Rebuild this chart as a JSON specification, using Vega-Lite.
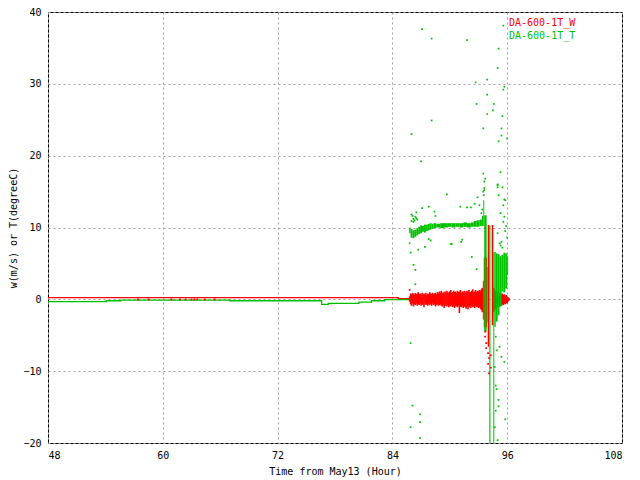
{
  "$schema": "https://vega.github.io/schema/vega-lite/v6.json",
  "width": 574,
  "height": 431,
  "autosize": {"type": "none"},
  "padding": {"left": 48, "top": 12, "right": 18, "bottom": 37},
  "background": "white",
  "datasets": {
    "base": [
      {"h": 48, "v": 0.24, "s": "DA-600-1T_W"},
      {"h": 84.6, "v": 0.1, "s": "DA-600-1T_W"},
      {"h": 85.8, "v": 0.1, "s": "DA-600-1T_W"},
      {"h": 48, "v": -0.32, "s": "DA-600-1T_T"},
      {"h": 54.1, "v": -0.2, "s": "DA-600-1T_T"},
      {"h": 55.6, "v": -0.1, "s": "DA-600-1T_T"},
      {"h": 67.0, "v": -0.2, "s": "DA-600-1T_T"},
      {"h": 76.6, "v": -0.7, "s": "DA-600-1T_T"},
      {"h": 77.3, "v": -0.55, "s": "DA-600-1T_T"},
      {"h": 80.5, "v": -0.4, "s": "DA-600-1T_T"},
      {"h": 81.8, "v": -0.2, "s": "DA-600-1T_T"},
      {"h": 83.2, "v": -0.05, "s": "DA-600-1T_T"},
      {"h": 85.8, "v": -0.05, "s": "DA-600-1T_T"}
    ],
    "noise": [
      {"h": 85.8, "lo": -0.3, "hi": 0.4}, {"h": 85.9, "lo": -0.7, "hi": 0.8},
      {"h": 86.0, "lo": -0.9, "hi": 0.7}, {"h": 86.1, "lo": -0.6, "hi": 0.9},
      {"h": 86.2, "lo": -1.0, "hi": 0.8}, {"h": 86.3, "lo": -0.7, "hi": 0.6},
      {"h": 86.4, "lo": -0.8, "hi": 0.9}, {"h": 86.5, "lo": -0.6, "hi": 0.7},
      {"h": 86.6, "lo": -0.9, "hi": 0.8}, {"h": 86.7, "lo": -0.7, "hi": 1.0},
      {"h": 86.8, "lo": -0.8, "hi": 0.7}, {"h": 86.9, "lo": -0.6, "hi": 0.8},
      {"h": 87.0, "lo": -0.9, "hi": 0.6}, {"h": 87.1, "lo": -0.7, "hi": 0.9},
      {"h": 87.2, "lo": -0.8, "hi": 0.7}, {"h": 87.3, "lo": -1.1, "hi": 0.8},
      {"h": 87.4, "lo": -0.6, "hi": 0.7}, {"h": 87.5, "lo": -0.8, "hi": 0.9},
      {"h": 87.6, "lo": -0.7, "hi": 0.6}, {"h": 87.7, "lo": -0.9, "hi": 0.8},
      {"h": 87.8, "lo": -0.6, "hi": 0.7}, {"h": 87.9, "lo": -0.8, "hi": 1.0},
      {"h": 88.0, "lo": -0.7, "hi": 0.8}, {"h": 88.1, "lo": -0.9, "hi": 0.7},
      {"h": 88.2, "lo": -0.6, "hi": 0.9}, {"h": 88.3, "lo": -0.8, "hi": 0.7},
      {"h": 88.4, "lo": -0.7, "hi": 0.8}, {"h": 88.5, "lo": -1.0, "hi": 0.9},
      {"h": 88.6, "lo": -0.8, "hi": 0.7}, {"h": 88.7, "lo": -0.7, "hi": 1.0},
      {"h": 88.8, "lo": -0.9, "hi": 0.8}, {"h": 88.9, "lo": -0.8, "hi": 1.1},
      {"h": 89.0, "lo": -0.7, "hi": 0.9}, {"h": 89.1, "lo": -0.9, "hi": 1.2},
      {"h": 89.2, "lo": -1.0, "hi": 0.8}, {"h": 89.3, "lo": -0.8, "hi": 1.0},
      {"h": 89.4, "lo": -1.2, "hi": 0.9}, {"h": 89.5, "lo": -0.9, "hi": 1.1},
      {"h": 89.6, "lo": -0.9, "hi": 0.9}, {"h": 89.7, "lo": -1.0, "hi": 1.2},
      {"h": 89.8, "lo": -0.8, "hi": 1.0}, {"h": 89.9, "lo": -1.1, "hi": 0.9},
      {"h": 90.0, "lo": -0.9, "hi": 1.1}, {"h": 90.1, "lo": -1.0, "hi": 1.3},
      {"h": 90.2, "lo": -0.8, "hi": 0.9}, {"h": 90.3, "lo": -1.1, "hi": 1.0},
      {"h": 90.4, "lo": -0.9, "hi": 1.2}, {"h": 90.5, "lo": -1.2, "hi": 1.0},
      {"h": 90.6, "lo": -0.9, "hi": 1.1}, {"h": 90.7, "lo": -1.0, "hi": 0.9},
      {"h": 90.8, "lo": -1.1, "hi": 1.2}, {"h": 90.9, "lo": -0.9, "hi": 1.0},
      {"h": 91.0, "lo": -1.9, "hi": 1.1}, {"h": 91.1, "lo": -1.0, "hi": 1.3},
      {"h": 91.2, "lo": -1.1, "hi": 0.9}, {"h": 91.3, "lo": -0.9, "hi": 1.1},
      {"h": 91.4, "lo": -1.2, "hi": 1.0}, {"h": 91.5, "lo": -1.0, "hi": 1.2},
      {"h": 91.6, "lo": -1.1, "hi": 0.9}, {"h": 91.7, "lo": -1.3, "hi": 1.1},
      {"h": 91.8, "lo": -1.0, "hi": 1.2}, {"h": 91.9, "lo": -1.4, "hi": 1.0},
      {"h": 92.0, "lo": -1.1, "hi": 1.3}, {"h": 92.1, "lo": -1.0, "hi": 1.1},
      {"h": 92.2, "lo": -1.2, "hi": 1.0}, {"h": 92.3, "lo": -0.9, "hi": 1.2},
      {"h": 92.4, "lo": -1.1, "hi": 1.4}, {"h": 92.5, "lo": -1.0, "hi": 1.0},
      {"h": 92.6, "lo": -1.2, "hi": 1.1}, {"h": 92.7, "lo": -0.9, "hi": 1.3},
      {"h": 92.8, "lo": -1.1, "hi": 1.0}, {"h": 92.9, "lo": -1.0, "hi": 1.2},
      {"h": 93.0, "lo": -1.2, "hi": 1.1}, {"h": 93.1, "lo": -1.1, "hi": 1.3},
      {"h": 93.2, "lo": -1.3, "hi": 1.2}, {"h": 93.3, "lo": -1.5, "hi": 1.4},
      {"h": 93.4, "lo": -1.8, "hi": 1.6},
      {"h": 94.6, "lo": -1.8, "hi": 1.6}, {"h": 94.7, "lo": -1.5, "hi": 1.3},
      {"h": 94.8, "lo": -1.2, "hi": 1.1}, {"h": 94.9, "lo": -1.0, "hi": 1.2},
      {"h": 95.0, "lo": -1.1, "hi": 0.9}, {"h": 95.1, "lo": -0.9, "hi": 1.0},
      {"h": 95.2, "lo": -1.0, "hi": 0.8}, {"h": 95.3, "lo": -0.8, "hi": 0.9},
      {"h": 95.4, "lo": -0.9, "hi": 0.7}, {"h": 95.5, "lo": -0.7, "hi": 0.8},
      {"h": 95.6, "lo": -0.8, "hi": 0.6}, {"h": 95.7, "lo": -0.6, "hi": 0.7},
      {"h": 95.8, "lo": -0.7, "hi": 0.5}, {"h": 95.9, "lo": -0.5, "hi": 0.6},
      {"h": 96.0, "lo": -0.6, "hi": 0.4}, {"h": 96.1, "lo": -0.3, "hi": 0.3},
      {"h": 96.2, "lo": -0.2, "hi": 0.2}
    ],
    "band": [
      {"t0": 93.45, "t1": 93.55, "lo": -2.8, "hi": 2.6, "s": "DA-600-1T_W"},
      {"t0": 93.55, "t1": 93.9, "lo": -3.9, "hi": 5.8, "s": "DA-600-1T_W"},
      {"t0": 93.9, "t1": 93.95, "lo": -3.2, "hi": 4.5, "s": "DA-600-1T_W"},
      {"t0": 93.96, "t1": 94.12, "lo": -6.6, "hi": 10.35, "s": "DA-600-1T_W"},
      {"t0": 94.38, "t1": 94.55, "lo": -3.6, "hi": 10.35, "s": "DA-600-1T_W"},
      {"t0": 85.75, "t1": 85.9, "lo": 9.2, "hi": 10.0, "s": "DA-600-1T_T"},
      {"t0": 85.9, "t1": 86.1, "lo": 8.6, "hi": 9.8, "s": "DA-600-1T_T"},
      {"t0": 86.1, "t1": 86.3, "lo": 8.5, "hi": 9.6, "s": "DA-600-1T_T"},
      {"t0": 86.3, "t1": 86.5, "lo": 8.7, "hi": 9.7, "s": "DA-600-1T_T"},
      {"t0": 86.5, "t1": 86.7, "lo": 8.9, "hi": 9.9, "s": "DA-600-1T_T"},
      {"t0": 86.7, "t1": 86.9, "lo": 9.1, "hi": 10.1, "s": "DA-600-1T_T"},
      {"t0": 86.9, "t1": 87.1, "lo": 9.2, "hi": 10.3, "s": "DA-600-1T_T"},
      {"t0": 87.1, "t1": 87.3, "lo": 9.4, "hi": 10.2, "s": "DA-600-1T_T"},
      {"t0": 87.3, "t1": 87.5, "lo": 9.3, "hi": 10.4, "s": "DA-600-1T_T"},
      {"t0": 87.5, "t1": 87.7, "lo": 9.5, "hi": 10.4, "s": "DA-600-1T_T"},
      {"t0": 87.7, "t1": 87.9, "lo": 9.6, "hi": 10.5, "s": "DA-600-1T_T"},
      {"t0": 87.9, "t1": 88.1, "lo": 9.7, "hi": 10.6, "s": "DA-600-1T_T"},
      {"t0": 88.1, "t1": 88.3, "lo": 9.8, "hi": 10.5, "s": "DA-600-1T_T"},
      {"t0": 88.3, "t1": 88.6, "lo": 9.9, "hi": 10.6, "s": "DA-600-1T_T"},
      {"t0": 88.6, "t1": 89.0, "lo": 10.0, "hi": 10.5, "s": "DA-600-1T_T"},
      {"t0": 89.0, "t1": 89.4, "lo": 9.9, "hi": 10.6, "s": "DA-600-1T_T"},
      {"t0": 89.4, "t1": 89.8, "lo": 10.0, "hi": 10.6, "s": "DA-600-1T_T"},
      {"t0": 89.8, "t1": 90.2, "lo": 10.1, "hi": 10.6, "s": "DA-600-1T_T"},
      {"t0": 90.2, "t1": 90.6, "lo": 10.0, "hi": 10.6, "s": "DA-600-1T_T"},
      {"t0": 90.6, "t1": 91.0, "lo": 10.1, "hi": 10.6, "s": "DA-600-1T_T"},
      {"t0": 91.0, "t1": 91.4, "lo": 10.0, "hi": 10.6, "s": "DA-600-1T_T"},
      {"t0": 91.4, "t1": 91.8, "lo": 10.1, "hi": 10.7, "s": "DA-600-1T_T"},
      {"t0": 91.8, "t1": 92.2, "lo": 10.0, "hi": 10.6, "s": "DA-600-1T_T"},
      {"t0": 92.2, "t1": 92.5, "lo": 10.1, "hi": 10.7, "s": "DA-600-1T_T"},
      {"t0": 92.5, "t1": 92.8, "lo": 10.1, "hi": 10.9, "s": "DA-600-1T_T"},
      {"t0": 92.8, "t1": 93.1, "lo": 10.1, "hi": 11.0, "s": "DA-600-1T_T"},
      {"t0": 93.1, "t1": 93.35, "lo": 10.2, "hi": 11.1, "s": "DA-600-1T_T"},
      {"t0": 93.35, "t1": 93.5, "lo": 10.2, "hi": 11.6, "s": "DA-600-1T_T"},
      {"t0": 93.5, "t1": 93.6, "lo": 10.2, "hi": 13.8, "s": "DA-600-1T_T"},
      {"t0": 93.6, "t1": 93.85, "lo": -4.5, "hi": 11.7, "s": "DA-600-1T_T"},
      {"t0": 94.13, "t1": 94.25, "lo": -20, "hi": 10.3, "s": "DA-600-1T_T"},
      {"t0": 94.55, "t1": 94.65, "lo": -20, "hi": 6.6, "s": "DA-600-1T_T"},
      {"t0": 94.65, "t1": 94.8, "lo": -3.8, "hi": 6.6, "s": "DA-600-1T_T"},
      {"t0": 94.8, "t1": 95.0, "lo": -3.1, "hi": 6.4, "s": "DA-600-1T_T"},
      {"t0": 95.0, "t1": 95.2, "lo": -2.2, "hi": 6.3, "s": "DA-600-1T_T"},
      {"t0": 95.2, "t1": 95.4, "lo": -1.0, "hi": 6.0, "s": "DA-600-1T_T"},
      {"t0": 95.4, "t1": 95.6, "lo": 1.1, "hi": 6.2, "s": "DA-600-1T_T"},
      {"t0": 95.6, "t1": 95.8, "lo": 1.0, "hi": 6.5, "s": "DA-600-1T_T"},
      {"t0": 95.8, "t1": 96.0, "lo": 1.5, "hi": 6.4, "s": "DA-600-1T_T"},
      {"t0": 96.0, "t1": 96.1, "lo": 3.4, "hi": 6.0, "s": "DA-600-1T_T"}
    ],
    "dots": [
      {"h": 57.4, "v": 0.0, "s": "DA-600-1T_W"}, {"h": 58.5, "v": 0.0, "s": "DA-600-1T_W"},
      {"h": 60.9, "v": 0.0, "s": "DA-600-1T_W"}, {"h": 61.8, "v": 0.0, "s": "DA-600-1T_W"},
      {"h": 62.4, "v": 0.0, "s": "DA-600-1T_W"}, {"h": 63.0, "v": 0.0, "s": "DA-600-1T_W"},
      {"h": 63.3, "v": 0.0, "s": "DA-600-1T_W"}, {"h": 63.6, "v": 0.0, "s": "DA-600-1T_W"},
      {"h": 64.4, "v": 0.0, "s": "DA-600-1T_W"}, {"h": 65.4, "v": 0.0, "s": "DA-600-1T_W"},
      {"h": 85.8, "v": 1.3, "s": "DA-600-1T_W"},
      {"h": 93.7, "v": -4.5, "s": "DA-600-1T_W"}, {"h": 93.7, "v": -5.2, "s": "DA-600-1T_W"},
      {"h": 93.8, "v": -6.1, "s": "DA-600-1T_W"}, {"h": 93.8, "v": -6.8, "s": "DA-600-1T_W"},
      {"h": 94.0, "v": -7.5, "s": "DA-600-1T_W"}, {"h": 94.1, "v": -8.2, "s": "DA-600-1T_W"},
      {"h": 94.0, "v": -9.0, "s": "DA-600-1T_W"}, {"h": 94.1, "v": -10.3, "s": "DA-600-1T_W"},
      {"h": 94.3, "v": -7.8, "s": "DA-600-1T_W"}, {"h": 94.3, "v": -9.5, "s": "DA-600-1T_W"},
      {"h": 87.1, "v": 37.6, "s": "DA-600-1T_T"}, {"h": 88.1, "v": 36.3, "s": "DA-600-1T_T"},
      {"h": 91.8, "v": 36.1, "s": "DA-600-1T_T"}, {"h": 95.6, "v": 38.1, "s": "DA-600-1T_T"},
      {"h": 95.1, "v": 34.9, "s": "DA-600-1T_T"}, {"h": 95.0, "v": 32.2, "s": "DA-600-1T_T"},
      {"h": 93.9, "v": 30.6, "s": "DA-600-1T_T"}, {"h": 92.7, "v": 30.2, "s": "DA-600-1T_T"},
      {"h": 95.7, "v": 29.6, "s": "DA-600-1T_T"}, {"h": 95.6, "v": 29.2, "s": "DA-600-1T_T"},
      {"h": 93.9, "v": 28.5, "s": "DA-600-1T_T"}, {"h": 92.8, "v": 27.2, "s": "DA-600-1T_T"},
      {"h": 94.6, "v": 27.2, "s": "DA-600-1T_T"}, {"h": 94.5, "v": 26.3, "s": "DA-600-1T_T"},
      {"h": 93.9, "v": 25.8, "s": "DA-600-1T_T"}, {"h": 95.5, "v": 25.5, "s": "DA-600-1T_T"},
      {"h": 88.1, "v": 24.9, "s": "DA-600-1T_T"}, {"h": 93.5, "v": 23.8, "s": "DA-600-1T_T"},
      {"h": 95.4, "v": 23.8, "s": "DA-600-1T_T"}, {"h": 86.0, "v": 23.0, "s": "DA-600-1T_T"},
      {"h": 95.4, "v": 22.8, "s": "DA-600-1T_T"}, {"h": 96.0, "v": 22.4, "s": "DA-600-1T_T"},
      {"h": 95.1, "v": 22.0, "s": "DA-600-1T_T"}, {"h": 87.0, "v": 19.2, "s": "DA-600-1T_T"},
      {"h": 93.5, "v": 17.5, "s": "DA-600-1T_T"}, {"h": 95.3, "v": 17.7, "s": "DA-600-1T_T"},
      {"h": 93.7, "v": 16.8, "s": "DA-600-1T_T"}, {"h": 93.6, "v": 16.4, "s": "DA-600-1T_T"},
      {"h": 95.0, "v": 16.0, "s": "DA-600-1T_T"}, {"h": 93.6, "v": 15.5, "s": "DA-600-1T_T"},
      {"h": 95.5, "v": 15.6, "s": "DA-600-1T_T"}, {"h": 95.0, "v": 15.6, "s": "DA-600-1T_T"},
      {"h": 93.6, "v": 15.2, "s": "DA-600-1T_T"}, {"h": 93.55, "v": 14.5, "s": "DA-600-1T_T"},
      {"h": 93.5, "v": 15.0, "s": "DA-600-1T_T"}, {"h": 89.7, "v": 14.6, "s": "DA-600-1T_T"},
      {"h": 87.8, "v": 12.9, "s": "DA-600-1T_T"}, {"h": 88.4, "v": 12.2, "s": "DA-600-1T_T"},
      {"h": 88.5, "v": 11.6, "s": "DA-600-1T_T"}, {"h": 87.1, "v": 12.7, "s": "DA-600-1T_T"},
      {"h": 91.1, "v": 12.9, "s": "DA-600-1T_T"}, {"h": 91.8, "v": 12.8, "s": "DA-600-1T_T"},
      {"h": 92.2, "v": 12.8, "s": "DA-600-1T_T"}, {"h": 92.6, "v": 13.3, "s": "DA-600-1T_T"},
      {"h": 92.9, "v": 14.2, "s": "DA-600-1T_T"}, {"h": 93.1, "v": 13.1, "s": "DA-600-1T_T"},
      {"h": 93.3, "v": 12.0, "s": "DA-600-1T_T"}, {"h": 93.4, "v": 12.5, "s": "DA-600-1T_T"},
      {"h": 86.0, "v": 11.8, "s": "DA-600-1T_T"}, {"h": 86.1, "v": 11.6, "s": "DA-600-1T_T"},
      {"h": 86.2, "v": 11.2, "s": "DA-600-1T_T"}, {"h": 86.3, "v": 11.0, "s": "DA-600-1T_T"},
      {"h": 86.4, "v": 11.5, "s": "DA-600-1T_T"}, {"h": 86.5, "v": 11.3, "s": "DA-600-1T_T"},
      {"h": 86.2, "v": 10.8, "s": "DA-600-1T_T"}, {"h": 86.6, "v": 11.1, "s": "DA-600-1T_T"},
      {"h": 86.0, "v": 10.9, "s": "DA-600-1T_T"}, {"h": 86.5, "v": 12.1, "s": "DA-600-1T_T"},
      {"h": 85.8, "v": 7.8, "s": "DA-600-1T_T"}, {"h": 87.8, "v": 8.4, "s": "DA-600-1T_T"},
      {"h": 88.0, "v": 8.2, "s": "DA-600-1T_T"}, {"h": 87.4, "v": 7.3, "s": "DA-600-1T_T"},
      {"h": 90.2, "v": 7.7, "s": "DA-600-1T_T"}, {"h": 91.2, "v": 8.0, "s": "DA-600-1T_T"},
      {"h": 91.3, "v": 8.3, "s": "DA-600-1T_T"}, {"h": 90.1, "v": 7.7, "s": "DA-600-1T_T"},
      {"h": 92.3, "v": 5.9, "s": "DA-600-1T_T"}, {"h": 92.8, "v": 4.2, "s": "DA-600-1T_T"},
      {"h": 86.2, "v": 4.8, "s": "DA-600-1T_T"}, {"h": 86.4, "v": 4.1, "s": "DA-600-1T_T"},
      {"h": 86.4, "v": 2.1, "s": "DA-600-1T_T"}, {"h": 85.9, "v": 6.5, "s": "DA-600-1T_T"},
      {"h": 86.7, "v": 6.9, "s": "DA-600-1T_T"}, {"h": 85.9, "v": -6.1, "s": "DA-600-1T_T"},
      {"h": 86.1, "v": -14.8, "s": "DA-600-1T_T"}, {"h": 86.9, "v": -16.0, "s": "DA-600-1T_T"},
      {"h": 86.9, "v": -17.1, "s": "DA-600-1T_T"}, {"h": 85.9, "v": -17.8, "s": "DA-600-1T_T"},
      {"h": 86.9, "v": -19.3, "s": "DA-600-1T_T"},
      {"h": 95.1, "v": 14.5, "s": "DA-600-1T_T"}, {"h": 95.7, "v": 13.9, "s": "DA-600-1T_T"},
      {"h": 95.6, "v": 13.1, "s": "DA-600-1T_T"}, {"h": 95.8, "v": 13.8, "s": "DA-600-1T_T"},
      {"h": 95.6, "v": 10.8, "s": "DA-600-1T_T"}, {"h": 95.4, "v": 8.0, "s": "DA-600-1T_T"},
      {"h": 95.0, "v": 15.9, "s": "DA-600-1T_T"}, {"h": 95.2, "v": 7.8, "s": "DA-600-1T_T"},
      {"h": 95.3, "v": 7.5, "s": "DA-600-1T_T"}, {"h": 95.5, "v": 7.2, "s": "DA-600-1T_T"},
      {"h": 95.0, "v": 9.2, "s": "DA-600-1T_T"}, {"h": 95.8, "v": 9.5, "s": "DA-600-1T_T"},
      {"h": 96.0, "v": 8.6, "s": "DA-600-1T_T"}, {"h": 95.9, "v": 10.2, "s": "DA-600-1T_T"},
      {"h": 95.3, "v": 12.0, "s": "DA-600-1T_T"}, {"h": 95.7, "v": 11.5, "s": "DA-600-1T_T"},
      {"h": 94.9, "v": -7.1, "s": "DA-600-1T_T"}, {"h": 95.4, "v": -8.0, "s": "DA-600-1T_T"},
      {"h": 95.7, "v": -8.7, "s": "DA-600-1T_T"}, {"h": 95.1, "v": -14.0, "s": "DA-600-1T_T"},
      {"h": 95.1, "v": -14.9, "s": "DA-600-1T_T"}, {"h": 95.8, "v": -16.7, "s": "DA-600-1T_T"},
      {"h": 95.0, "v": -19.6, "s": "DA-600-1T_T"}, {"h": 94.8, "v": -12.0, "s": "DA-600-1T_T"},
      {"h": 94.9, "v": -12.5, "s": "DA-600-1T_T"}, {"h": 95.2, "v": -6.6, "s": "DA-600-1T_T"},
      {"h": 94.8, "v": -5.2, "s": "DA-600-1T_T"}, {"h": 94.7, "v": -9.4, "s": "DA-600-1T_T"},
      {"h": 94.8, "v": -15.5, "s": "DA-600-1T_T"}, {"h": 94.7, "v": -17.8, "s": "DA-600-1T_T"}
    ]
  },
  "layer": [
    {
      "data": {"name": "base"},
      "mark": {"type": "line", "interpolate": "step-after", "strokeWidth": 1.3},
      "encoding": {
        "x": {
          "field": "h",
          "type": "quantitative",
          "scale": {"domain": [48, 108], "nice": false, "zero": false},
          "axis": {
            "title": "Time from May13 (Hour)",
            "values": [48, 60, 72, 84, 96, 108],
            "labelPadding": 7,
            "titlePadding": 6
          }
        },
        "y": {
          "field": "v",
          "type": "quantitative",
          "scale": {"domain": [-20, 40], "nice": false, "zero": false},
          "axis": {
            "title": "w(m/s) or T(degreeC)",
            "values": [-20, -10, 0, 10, 20, 30, 40],
            "labelPadding": 7,
            "titlePadding": 4
          }
        },
        "color": {
          "field": "s",
          "type": "nominal",
          "scale": {"domain": ["DA-600-1T_W", "DA-600-1T_T"], "range": ["#ff0000", "#00c000"]},
          "legend": {
            "orient": "none",
            "legendX": 449,
            "legendY": 6,
            "title": null,
            "symbolOpacity": 0,
            "symbolSize": 30,
            "labelOffset": 2,
            "rowPadding": 3,
            "labelFont": "DejaVu Sans Mono",
            "labelFontSize": 10,
            "encode": {
              "labels": {
                "update": {"fill": {"signal": "datum.value === 'DA-600-1T_W' ? '#ff0000' : '#00c000'"}}
              }
            }
          }
        }
      }
    },
    {
      "data": {"name": "noise"},
      "mark": {"type": "rule", "strokeWidth": 1.6, "color": "#ff0000"},
      "encoding": {
        "x": {"field": "h", "type": "quantitative"},
        "y": {"field": "lo", "type": "quantitative"},
        "y2": {"field": "hi"}
      }
    },
    {
      "data": {"name": "band"},
      "mark": {"type": "rect"},
      "encoding": {
        "x": {"field": "t0", "type": "quantitative"},
        "x2": {"field": "t1"},
        "y": {"field": "lo", "type": "quantitative"},
        "y2": {"field": "hi"},
        "color": {"field": "s", "type": "nominal"}
      }
    },
    {
      "data": {"name": "dots"},
      "mark": {"type": "square", "size": 3, "opacity": 1, "filled": true},
      "encoding": {
        "x": {"field": "h", "type": "quantitative"},
        "y": {"field": "v", "type": "quantitative"},
        "color": {"field": "s", "type": "nominal"}
      }
    }
  ],
  "resolve": {"scale": {"color": "shared"}},
  "config": {
    "view": {"stroke": "#000000", "strokeWidth": 1},
    "font": "DejaVu Sans Mono",
    "axis": {
      "domain": false,
      "ticks": false,
      "grid": true,
      "gridColor": "#a0a0a0",
      "gridDash": [2, 3],
      "gridWidth": 1,
      "labelFont": "DejaVu Sans Mono",
      "labelFontSize": 10,
      "labelColor": "#000000",
      "titleFont": "DejaVu Sans Mono",
      "titleFontSize": 10,
      "titleFontWeight": "normal",
      "titleColor": "#000000"
    }
  }
}
